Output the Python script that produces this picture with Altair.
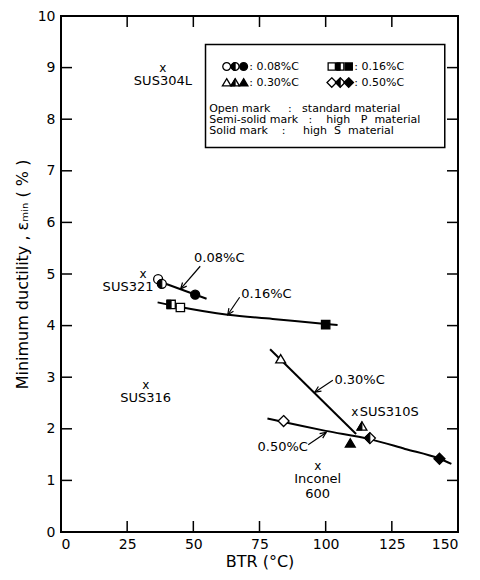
import math
import altair as alt
import pandas as pd

# ---------------- values ----------------
pt_series = ["0.08", "0.08", "0.08",
             "0.16", "0.16", "0.16",
             "0.30", "0.30", "0.30",
             "0.50", "0.50", "0.50"]
pt_kind = ["open", "semi", "solid"] * 4
pt_btr = [36.7, 38.1, 50.7, 45.1, 41.6, 100.0, 83.0, 113.7, 109.3, 84.1, 116.7, 143.0]
pt_dmin = [4.90, 4.81, 4.60, 4.35, 4.41, 4.02, 3.35, 2.05, 1.72, 2.15, 1.82, 1.42]

fit_series = ["0.08"] * 2 + ["0.16"] * 6 + ["0.30"] * 2 + ["0.50"] * 7
fit_btr = [38.0, 55.0,
           36.5, 45.0, 63.0, 80.0, 100.0, 104.5,
           79.0, 111.5,
           78.0, 84.1, 100.0, 116.7, 130.0, 143.0, 147.5]
fit_dmin = [4.84, 4.52,
            4.45, 4.36, 4.21, 4.13, 4.03, 4.01,
            3.54, 1.90,
            2.20, 2.13, 1.96, 1.80, 1.61, 1.42, 1.32]

mat_name = ["SUS304L", "SUS321", "SUS316", "SUS310S", "Inconel\n600"]
mat_btr = [38.5, 31.0, 32.0, 111.0, 97.0]
mat_dmin = [9.00, 5.00, 2.85, 2.32, 1.28]

note_text = ["0.08%C", "0.16%C", "0.30%C", "0.50%C"]
note_btr = [59.8, 68.1, 103.3, 93.3]
note_dmin = [5.31, 4.62, 2.95, 1.65]
tail_btr = [52.6, 67.5, 102.7, 93.4]
tail_dmin = [5.15, 4.55, 2.94, 1.69]
tip_btr = [45.2, 63.0, 95.9, 100.2]
tip_dmin = [4.71, 4.21, 2.71, 1.93]

x_ticks = [0, 25, 50, 75, 100, 125, 150]
y_ticks = [0, 1, 2, 3, 4, 5, 6, 7, 8, 9, 10]

legend_series = ["0.08", "0.16", "0.30", "0.50"]
legend_text = [": 0.08%C", ": 0.16%C", ": 0.30%C", ": 0.50%C"]
NB = "\u00a0"
legend_lines = ["Open mark" + NB * 5 + ":" + NB * 3 + "standard material",
                "Semi-solid mark" + NB * 3 + ":" + NB * 4 + "high" + NB * 3 + "P" + NB * 2 + "material",
                "Solid mark" + NB * 4 + ":" + NB * 5 + "high" + NB * 2 + "S" + NB * 2 + "material"]

# ---------------- layout / style ----------------
W, H = 397, 516
XMAX, YMAX = 150, 10
TICK = 11
FONT = "DejaVu Sans"

CIRCLE = "M1,0A1,1,0,1,1,-1,0A1,1,0,1,1,1,0Z"
CIRCLE_HALF = "M0,-1A1,1,0,0,0,0,1Z"
SQUARE = "M-1,-1L1,-1L1,1L-1,1Z"
SQUARE_HALF = "M-1,-1L0,-1L0,1L-1,1Z"
TRI = "M0,-1L1.1,0.85L-1.1,0.85Z"
TRI_HALF = "M0,-1L0,0.85L-1.1,0.85Z"
DIAM = "M0,-1L1,0L0,1L-1,0Z"
DIAM_HALF = "M0,-1L-1,0L0,1Z"
ARROW = "M-0.45,1L0,0L0.45,1"

FULL = {"0.08": CIRCLE, "0.16": SQUARE, "0.30": TRI, "0.50": DIAM}
HALF = {"0.08": CIRCLE_HALF, "0.16": SQUARE_HALF, "0.30": TRI_HALF, "0.50": DIAM_HALF}
SIZE = {"0.08": 81, "0.16": 70, "0.30": 81, "0.50": 121}
LEG_SCALE = 0.75

# legend box geometry (data units)
LEG_X0, LEG_X1, LEG_Y0, LEG_Y1 = 54.6, 145.0, 9.45, 7.45
LEG_COL_X = [62.6, 102.3]
LEG_STEP = 3.2
LEG_ROW_Y = [9.02, 8.71]
LEG_TXT_DX = 8.5
LEG_LINE_X = 56.0
LEG_LINE_Y0 = 8.20
LEG_LINE_STEP = 0.215

xs = alt.Scale(domain=[0, XMAX], nice=False, zero=False)
ys = alt.Scale(domain=[0, YMAX], nice=False, zero=False)


def X(field="btr"):
    return alt.X(f"{field}:Q", scale=xs)


def Y(field="dmin"):
    return alt.Y(f"{field}:Q", scale=ys)


# ---------------- tables ----------------
fit_df = pd.DataFrame(dict(series=fit_series, btr=fit_btr, dmin=fit_dmin))

pts = pd.DataFrame(dict(series=pt_series, kind=pt_kind, btr=pt_btr, dmin=pt_dmin))
pts["shape"] = pts["series"].map(FULL)
pts["half"] = pts["series"].map(HALF)
pts["sz"] = pts["series"].map(SIZE)
pts["fillc"] = pts["kind"].map({"open": "white", "semi": "white", "solid": "black"})

leg_rows = []
for i, s in enumerate(legend_series):
    cx = LEG_COL_X[i % 2]
    cy = LEG_ROW_Y[i // 2]
    for j, k in enumerate(["open", "semi", "solid"]):
        leg_rows.append(dict(series=s, kind=k, btr=cx + j * LEG_STEP, dmin=cy))
leg = pd.DataFrame(leg_rows)
leg["shape"] = leg["series"].map(FULL)
leg["half"] = leg["series"].map(HALF)
leg["sz"] = leg["series"].map(SIZE) * LEG_SCALE
leg["fillc"] = leg["kind"].map({"open": "white", "semi": "white", "solid": "black"})

leg_txt = pd.DataFrame(dict(
    label=legend_text,
    btr=[LEG_COL_X[i % 2] + LEG_TXT_DX for i in range(4)],
    dmin=[LEG_ROW_Y[i // 2] for i in range(4)]))
leg_lines = pd.DataFrame(dict(
    label=legend_lines,
    btr=[LEG_LINE_X] * 3,
    dmin=[LEG_LINE_Y0 - i * LEG_LINE_STEP for i in range(3)]))

mats = pd.DataFrame(dict(name=mat_name, btr=mat_btr, dmin=mat_dmin))

kx, ky = W / XMAX, H / YMAX
arr = pd.DataFrame(dict(btr=tail_btr, dmin=tail_dmin, btr2=tip_btr, dmin2=tip_dmin))
arr["ang"] = [
    (math.degrees(math.atan2((b2 - b1) * kx, (d2 - d1) * ky)) + 360) % 360
    for b1, d1, b2, d2 in zip(tail_btr, tail_dmin, tip_btr, tip_dmin)]
notes = pd.DataFrame(dict(label=note_text, btr=note_btr, dmin=note_dmin))

xt = pd.DataFrame(dict(btr=x_ticks))
yt = pd.DataFrame(dict(dmin=y_ticks))

# ---------------- layers ----------------
axis_x = alt.Axis(values=x_ticks, title="BTR (°C)", format="d", labelPadding=5,
                  titlePadding=2, labelFontSize=14, titleFontSize=16)
axis_y = alt.Axis(values=y_ticks, title="Minimum ductility , εₘᵢₙ   ( % )", format="d",
                  labelPadding=6, titlePadding=7, labelFontSize=14, titleFontSize=16)

fits = alt.Chart(fit_df).mark_line(interpolate="monotone", color="black", strokeWidth=2).encode(
    x=alt.X("btr:Q", scale=xs, axis=axis_x),
    y=alt.Y("dmin:Q", scale=ys, axis=axis_y),
    detail="series:N")

ticks_b = alt.Chart(xt).mark_rule(color="black", strokeWidth=1.5).encode(
    x=X(), y=alt.value(H), y2=alt.value(H - TICK))
ticks_t = alt.Chart(xt).mark_rule(color="black", strokeWidth=1.5).encode(
    x=X(), y=alt.value(0), y2=alt.value(TICK))
ticks_l = alt.Chart(yt).mark_rule(color="black", strokeWidth=1.5).encode(
    y=Y(), x=alt.value(0), x2=alt.value(TICK))
ticks_r = alt.Chart(yt).mark_rule(color="black", strokeWidth=1.5).encode(
    y=Y(), x=alt.value(W - TICK), x2=alt.value(W))


def markers(df):
    full = alt.Chart(df).mark_point(filled=True, stroke="black", strokeWidth=1.3, opacity=1).encode(
        x=X(), y=Y(),
        shape=alt.Shape("shape:N", scale=None),
        size=alt.Size("sz:Q", scale=None),
        fill=alt.Fill("fillc:N", scale=None))
    half = alt.Chart(df).transform_filter(alt.datum.kind == "semi").mark_point(
        filled=True, fill="black", stroke="black", strokeWidth=1.0, opacity=1).encode(
        x=X(), y=Y(),
        shape=alt.Shape("half:N", scale=None),
        size=alt.Size("sz:Q", scale=None))
    return full + half


pts_layer = markers(pts)

legend_box = alt.Chart(xt).mark_rect(fill="white", stroke="black", strokeWidth=1.5).encode(
    x=alt.datum(LEG_X0, scale=xs), x2=alt.datum(LEG_X1),
    y=alt.datum(LEG_Y0, scale=ys), y2=alt.datum(LEG_Y1)).transform_filter(alt.datum.btr == 0)
legend_marks = markers(leg)
legend_t1 = alt.Chart(leg_txt).mark_text(font=FONT, fontSize=11, align="left", baseline="middle",
                                         color="black").encode(x=X(), y=Y(), text="label:N")
legend_t2 = alt.Chart(leg_lines).mark_text(font=FONT, fontSize=11, align="left", baseline="middle",
                                           color="black").encode(x=X(), y=Y(), text="label:N")

mat_x = alt.Chart(mats).mark_text(font=FONT, fontSize=12, baseline="middle", color="black").encode(
    x=X(), y=Y(), text=alt.value("x"))


def mat_label(names, **kw):
    return alt.Chart(mats).transform_filter(
        alt.FieldOneOfPredicate(field="name", oneOf=names)).mark_text(
        font=FONT, fontSize=13, color="black", lineBreak="\n", lineHeight=15, **kw).encode(
        x=X(), y=Y(), text="name:N")


lab_below = mat_label(["SUS304L", "SUS316", "Inconel\n600"], align="center", baseline="top", dy=7)
lab_321 = mat_label(["SUS321"], align="center", baseline="top", dx=-15, dy=7)
lab_310 = mat_label(["SUS310S"], align="left", baseline="middle", dx=5)

arrow_lines = alt.Chart(arr).mark_rule(color="black", strokeWidth=1.2).encode(
    x=X(), y=Y(), x2="btr2:Q", y2="dmin2:Q")
arrow_heads = alt.Chart(arr).mark_point(shape=ARROW, filled=False, stroke="black", strokeWidth=1.2,
                                        size=150, opacity=1).encode(
    x=X("btr2"), y=Y("dmin2"), angle=alt.Angle("ang:Q", scale=None))


def note(labels, **kw):
    return alt.Chart(notes).transform_filter(
        alt.FieldOneOfPredicate(field="label", oneOf=labels)).mark_text(
        font=FONT, fontSize=13, color="black", baseline="middle", **kw).encode(
        x=X(), y=Y(), text="label:N")


notes_c = note(["0.08%C"], align="center")
notes_l = note(["0.16%C", "0.30%C"], align="left")
notes_r = note(["0.50%C"], align="right")

chart = alt.layer(
    fits, ticks_b, ticks_t, ticks_l, ticks_r,
    arrow_lines, arrow_heads, pts_layer,
    mat_x, lab_below, lab_321, lab_310,
    notes_c, notes_l, notes_r,
    legend_box, legend_marks, legend_t1, legend_t2,
).properties(
    width=W, height=H,
    padding={"left": 53, "top": 8, "right": 14, "bottom": 40},
    autosize=alt.AutoSizeParams(type="none"),
).configure(font=FONT).configure_view(
    stroke="black", strokeWidth=2
).configure_axis(
    grid=False, ticks=False, tickSize=0, domain=False,
    labelColor="black", titleColor="black", titleFontWeight="normal", labelFont=FONT, titleFont=FONT
)

chart.save("out.html", embed_options={"renderer": "svg", "actions": False})
